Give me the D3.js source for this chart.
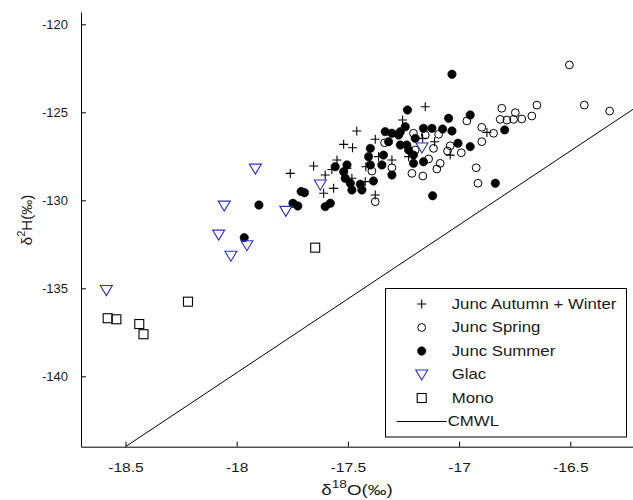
<!DOCTYPE html>
<html>
<head>
<meta charset="utf-8">
<script src="https://cdnjs.cloudflare.com/ajax/libs/d3/7.8.5/d3.min.js"></script>
<style>
  html, body { margin: 0; padding: 0; background: #fff; }
  svg { display: block; }
  text { font-family: "Liberation Sans", Arial, sans-serif; fill: #1a1a1a; }
</style>
</head>
<body>
<script>
// ---------- data ----------
const xTicks = [-18.5, -18, -17.5, -17, -16.5];
const yTicks = [-140, -135, -130, -125, -120];
const xDomain = [-18.7, -16.2];
const yDomain = [-144, -119.3];

// Junc Autumn + Winter (plus)
const autumnWinter = [
  [-17.759,-128.47],[-17.654,-128.05],[-17.602,-128.56],[-17.564,-129.32],[-17.609,-129.60],
  [-17.572,-128.25],[-17.549,-127.71],[-17.460,-126.06],[-17.519,-126.82],[-17.479,-127.01],
  [-17.377,-126.53],[-17.254,-125.44],[-17.152,-124.68],[-17.419,-128.09],[-17.362,-127.52],
  [-17.302,-127.71],[-17.482,-128.75],[-17.422,-128.94],[-17.377,-129.70],[-17.227,-127.52],
  [-17.504,-128.18],[-16.875,-126.14],[-17.040,-127.43],[-17.110,-126.67],[-17.164,-126.48]
];
// Junc Spring (open circles)
const spring = [
  [-16.504,-122.31],[-16.437,-124.59],[-16.323,-124.93],[-16.650,-124.59],[-16.673,-125.21],
  [-16.718,-125.38],[-16.747,-125.02],[-16.808,-124.77],[-16.815,-125.40],[-16.785,-125.44],
  [-16.755,-125.40],[-16.898,-125.85],[-16.845,-126.19],[-16.898,-126.67],[-16.965,-125.49],
  [-17.040,-126.90],[-17.052,-127.20],[-16.990,-127.30],[-17.085,-127.90],[-17.100,-128.22],
  [-17.137,-127.65],[-17.163,-128.62],[-16.923,-128.15],[-16.915,-129.03],[-17.152,-126.29],
  [-17.115,-127.05],[-17.092,-126.25],[-17.335,-126.73],[-17.205,-126.19],[-17.197,-127.14],
  [-17.302,-128.15],[-17.392,-128.34],[-17.212,-128.47],[-17.377,-130.08]
];
// Junc Summer (filled circles)
const summer = [
  [-17.032,-122.84],[-17.232,-124.87],[-17.242,-125.82],[-17.332,-126.10],[-17.302,-126.19],
  [-17.272,-126.29],[-17.317,-126.67],[-17.264,-126.86],[-17.235,-126.86],[-17.197,-126.48],
  [-17.399,-127.05],[-17.407,-127.52],[-17.399,-127.99],[-17.340,-127.43],[-17.347,-127.99],
  [-17.302,-128.56],[-17.504,-127.99],[-17.519,-128.38],[-17.512,-128.75],[-17.489,-129.03],
  [-17.482,-129.41],[-17.444,-129.09],[-17.437,-129.41],[-17.385,-128.90],[-17.205,-127.43],
  [-17.205,-127.90],[-17.160,-127.81],[-17.557,-128.09],[-17.227,-127.14],[-16.950,-125.15],
  [-17.047,-125.34],[-17.122,-125.91],[-17.074,-125.95],[-17.032,-126.06],[-16.795,-126.00],
  [-17.005,-126.76],[-16.950,-126.95],[-16.837,-129.03],[-17.119,-129.74],[-17.160,-125.91],
  [-17.710,-129.50],[-17.900,-130.27],[-17.966,-132.12],[-17.747,-130.17],[-17.725,-130.32],
  [-17.695,-129.57],[-17.602,-130.36],[-17.579,-130.17],[-17.264,-126.10]
];
// Glac (down triangles)
const glac = [
  [-18.586,-135.10],[-18.081,-131.95],[-18.056,-130.30],[-18.026,-133.15],[-17.954,-132.55],
  [-17.916,-128.20],[-17.779,-130.60],[-17.624,-129.10],[-17.167,-127.00]
];
// Mono (squares)
const mono = [
  [-18.580,-136.70],[-18.541,-136.76],[-18.438,-137.03],[-18.419,-137.61],[-18.219,-135.76],
  [-17.647,-132.69]
];
// CMWL end points
const cmwlX = [-18.5, -16.2];
const cmwlY = [-144.0, -124.68];

const legendLabels = ["Junc Autumn + Winter", "Junc Spring", "Junc Summer", "Glac", "Mono", "CMWL"];

// ---------- drawing ----------
const W = 633, H = 500;
const svg = d3.select("body").append("svg").attr("width", W).attr("height", H);
const plotL = 81, plotR = 637, plotT = 12, plotB = 446.7;
const x = d3.scaleLinear().domain(xDomain).range([plotL, plotR]);
const y = d3.scaleLinear().domain(yDomain).range([plotB, plotT]);
const SX = 1.2;   // horizontal stretch of the reference text
const blue = "#2f2fc8";

// axes
const fmt = d => d3.format("")(d).replace("−", "-");
const xAxis = d3.axisBottom(x).tickValues(xTicks).tickSizeInner(-5).tickSizeOuter(0).tickPadding(16)
  .tickFormat(fmt);
const yAxis = d3.axisLeft(y).tickValues(yTicks).tickSizeInner(-5).tickSizeOuter(0).tickPadding(13)
  .tickFormat(fmt);

const gx = svg.append("g").attr("transform", `translate(0,${plotB})`).call(xAxis);
const gy = svg.append("g").attr("transform", `translate(${plotL},0)`).call(yAxis);
[gx, gy].forEach(g => {
  g.select(".domain").attr("stroke", "#000").attr("stroke-width", 1);
  g.selectAll(".tick line").attr("stroke", "#000");
  g.selectAll(".tick text").attr("font-size", 13).attr("fill", "#1a1a1a")
   .style("font-family", "'Liberation Sans', Arial, sans-serif");
});
gx.selectAll(".tick text").attr("transform", `scale(${SX},1)`);

// axis labels
const xl = svg.append("text").attr("text-anchor", "middle").attr("font-size", 15)
  .attr("transform", `translate(357,495) scale(1.25,1)`);
xl.append("tspan").text("δ");
xl.append("tspan").attr("font-size", 11).attr("dy", -7).text("18");
xl.append("tspan").attr("dy", 7).text("O(‰)");

const yl = svg.append("text").attr("text-anchor", "middle").attr("font-size", 15)
  .attr("transform", `translate(32,220) rotate(-90)`);
yl.append("tspan").text("δ");
yl.append("tspan").attr("font-size", 11).attr("dy", -7).text("2");
yl.append("tspan").attr("dy", 7).text("H(‰)");

// clip
svg.append("clipPath").attr("id", "clip").append("rect")
  .attr("x", plotL).attr("y", plotT).attr("width", plotR - plotL).attr("height", plotB - plotT);
const plot = svg.append("g").attr("clip-path", "url(#clip)");

// CMWL
plot.append("line")
  .attr("x1", x(cmwlX[0])).attr("y1", y(cmwlY[0]))
  .attr("x2", x(cmwlX[1])).attr("y2", y(cmwlY[1]))
  .attr("stroke", "#000").attr("stroke-width", 1);

// marker helpers
const plusPath = s => `M${-s},0H${s}M0,${-s}V${s}`;
const triPath = "M-6,-4.5L6,-4.5L0,5.5Z";
const sq = 4.5;

function drawPlus(g, px, py) {
  g.append("path").attr("d", plusPath(4.5)).attr("transform", `translate(${px},${py})`)
    .attr("stroke", "#000").attr("stroke-width", 1.1).attr("fill", "none");
}
function drawOpen(g, px, py) {
  g.append("circle").attr("cx", px).attr("cy", py).attr("r", 3.9)
    .attr("fill", "none").attr("stroke", "#000").attr("stroke-width", 1);
}
function drawFilled(g, px, py) {
  g.append("circle").attr("cx", px).attr("cy", py).attr("r", 4.2)
    .attr("fill", "#000").attr("stroke", "#000").attr("stroke-width", 0.6);
}
function drawTri(g, px, py) {
  g.append("path").attr("d", triPath).attr("transform", `translate(${px},${py})`)
    .attr("fill", "none").attr("stroke", blue).attr("stroke-width", 1.1);
}
function drawSq(g, px, py) {
  g.append("rect").attr("x", px - sq).attr("y", py - sq).attr("width", 2 * sq).attr("height", 2 * sq)
    .attr("fill", "none").attr("stroke", "#000").attr("stroke-width", 1.1);
}

const gMono = plot.append("g");
mono.forEach(d => drawSq(gMono, x(d[0]), y(d[1])));
const gSpring = plot.append("g");
spring.forEach(d => drawOpen(gSpring, x(d[0]), y(d[1])));
const gSummer = plot.append("g");
summer.forEach(d => drawFilled(gSummer, x(d[0]), y(d[1])));
const gAW = plot.append("g");
autumnWinter.forEach(d => drawPlus(gAW, x(d[0]), y(d[1])));
const gGlac = plot.append("g");
glac.forEach(d => drawTri(gGlac, x(d[0]), y(d[1])));

// legend
const lg = svg.append("g");
lg.append("rect").attr("x", 385.5).attr("y", 288.5).attr("width", 241).attr("height", 148.5)
  .attr("fill", "#fff").attr("stroke", "#000").attr("stroke-width", 1);
const rowY = i => 304 + i * 23.5;
const mX = 421.7;
drawPlus(lg, mX, rowY(0));
drawOpen(lg, mX, rowY(1));
drawFilled(lg, mX, rowY(2));
drawTri(lg, mX, rowY(3));
drawSq(lg, mX, rowY(4));
lg.append("line").attr("x1", 396.7).attr("x2", 446.7).attr("y1", rowY(5)).attr("y2", rowY(5))
  .attr("stroke", "#000").attr("stroke-width", 1);
legendLabels.forEach((t, i) => {
  const tx = i === 5 ? 447.7 : 451.7;
  lg.append("text").attr("font-size", 14).attr("dominant-baseline", "central")
    .attr("transform", `translate(${tx},${rowY(i)}) scale(${SX},1)`).text(t);
});
</script>
</body>
</html>
